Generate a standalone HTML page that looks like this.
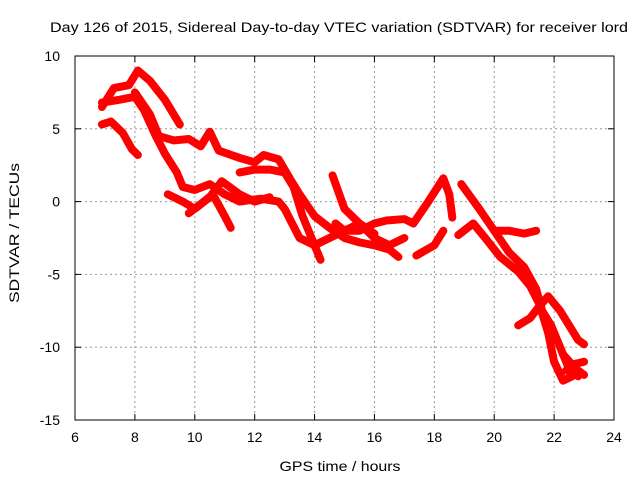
<!DOCTYPE html>
<html><head><meta charset="utf-8"><style>
body{margin:0;background:#fff}
svg{display:block;font-family:"Liberation Sans",sans-serif}
</style></head><body>
<svg id="c" width="640" height="480">
<text x="339" y="32" font-size="14" text-anchor="middle" textLength="578" lengthAdjust="spacingAndGlyphs">Day 126 of 2015, Sidereal Day-to-day VTEC variation (SDTVAR) for receiver lord</text>
<text x="340" y="471" font-size="14" text-anchor="middle" textLength="121" lengthAdjust="spacingAndGlyphs">GPS time / hours</text>
<text transform="translate(19,233) rotate(-90)" font-size="14" text-anchor="middle" textLength="140" lengthAdjust="spacingAndGlyphs">SDTVAR / TECUs</text>
<g id="grid"></g>
<g id="ticks"></g>
<g id="series"></g>
<rect x="75" y="56" width="539" height="364" fill="none" stroke="#000" stroke-width="1"/>
</svg>
<script>
const xTicks=[6,8,10,12,14,16,18,20,22,24];
const yTicks=[10,5,0,-5,-10,-15];
const trackA=[[6.9,6.5],[7.3,7.8],[7.8,8.0],[8.1,9.0],[8.5,8.3],[9.0,7],[9.5,5.3]];
const trackB=[[6.9,6.8],[7.5,7.0],[8.0,7.2],[8.3,6.3],[8.7,4.5],[9.0,3.3],[9.4,2],[9.6,1],[10.0,0.8],[10.5,1.2],[11.0,0.5],[11.5,0],[12.2,0.2],[12.8,0.0],[13.0,-0.5],[13.5,-2.5],[14.0,-3.0],[14.5,-2.5],[15.0,-2.0],[15.5,-1.5],[16.0,-2.5],[16.5,-3.0],[17.0,-2.5]];
const trackC=[[6.9,5.3],[7.2,5.5],[7.6,4.7],[7.9,3.6],[8.1,3.2]];
const trackD=[[8.0,7.5],[8.5,6.0],[8.8,4.5],[9.3,4.2],[9.8,4.3],[10.2,3.8],[10.5,4.8],[10.8,3.5],[11.5,3],[12.0,2.7],[12.3,3.2],[12.8,2.9],[13.2,1.5],[13.5,0.5],[14.0,-1.0],[14.5,-1.8],[15.0,-2.5],[15.5,-2.8],[16.0,-3.0],[16.5,-3.3],[16.8,-3.8]];
const trackE=[[9.1,0.5],[9.6,0],[10.0,-0.5],[10.5,0.3],[10.9,1.4],[11.5,0.5],[12,0],[12.5,0.3]];
const trackF=[[9.8,-0.8],[10.3,0.0],[10.6,0.5],[11.0,-1.0],[11.2,-1.8]];
const trackH=[[11.5,2.0],[12.0,2.2],[12.5,2.2],[13.0,2.0],[13.3,1.0],[13.6,-1.0],[14.0,-3.0],[14.2,-4.0]];
const trackI=[[14.6,1.8],[15.0,-0.5],[15.5,-1.5],[16,-2.2]];
const trackJ=[[14.7,-1.5],[15,-2],[15.5,-2],[16,-1.5],[16.4,-1.3],[17,-1.2],[17.3,-1.5]];
const trackK=[[17.3,-1.5],[17.8,0],[18.3,1.6],[18.5,0.5],[18.6,-1.1]];
const trackL=[[17.4,-3.7],[18.0,-3.0],[18.3,-2.0]];
const trackM=[[18.9,1.2],[19.5,-0.5],[20,-2],[20.5,-3.5],[21,-4.5],[21.4,-6],[21.6,-7.5],[21.9,-8.5],[22.2,-10],[22.5,-11.5],[22.8,-12]];
const trackN=[[18.8,-2.3],[19.3,-1.5],[19.7,-2.5],[20.2,-3.8],[20.8,-4.8],[21.2,-5.8],[21.5,-7],[21.8,-9],[22.0,-11],[22.3,-12.3],[22.6,-12]];
const trackO=[[20.0,-2.0],[20.5,-2.0],[21.0,-2.2],[21.4,-2.0]];
const trackP=[[20.8,-8.5],[21.2,-8],[21.5,-7.2],[21.8,-6.5],[22.2,-7.5],[22.5,-8.5],[22.8,-9.5],[23.0,-9.8]];
const trackQ=[[22.3,-10.5],[22.6,-11.2],[23.0,-11.0]];
const trackR=[[22.4,-11.6],[22.8,-11.6],[23.0,-11.9]];
const tracks=[trackA,trackB,trackC,trackD,trackE,trackF,trackH,trackI,trackJ,trackK,trackL,trackM,trackN,trackO,trackP,trackQ,trackR];
const X=v=>75+(v-6)*539/18, Y=v=>56+(10-v)*364/25;
const NS='http://www.w3.org/2000/svg';
const g=document.getElementById('grid'),t=document.getElementById('ticks'),s=document.getElementById('series');
function mk(tag,a,p){const e=document.createElementNS(NS,tag);for(const k in a)e.setAttribute(k,a[k]);p.appendChild(e);return e;}
xTicks.forEach(v=>{const x=X(v);
 if(v>6&&v<24){const l=mk('line',{x1:x,x2:x,y1:56,y2:420,stroke:'#999','stroke-dasharray':'2,3'},g);}
 mk('line',{x1:x,x2:x,y1:420,y2:414,stroke:'#000'},t);mk('line',{x1:x,x2:x,y1:56,y2:62,stroke:'#000'},t);
 const tx=mk('text',{x:x,y:442,'font-size':14,'text-anchor':'middle'},t);tx.textContent=v;
 });
yTicks.forEach(v=>{const y=Y(v);
 if(v<10&&v>-15){const l=mk('line',{x1:75,x2:614,y1:y,y2:y,stroke:'#999','stroke-dasharray':'2,3'},g);}
 mk('line',{x1:75,x2:81,y1:y,y2:y,stroke:'#000'},t);mk('line',{x1:608,x2:614,y1:y,y2:y,stroke:'#000'},t);
 const tx=mk('text',{x:60,y:y+5,'font-size':14,'text-anchor':'end'},t);tx.textContent=v;
 });
tracks.forEach(tr=>{const p=mk('polyline',{points:tr.map(d=>X(d[0])+','+Y(d[1])).join(' '),fill:'none',stroke:'#f00','stroke-width':8,'stroke-linejoin':'round','stroke-linecap':'round'},s);
 });
</script>
</body></html>
